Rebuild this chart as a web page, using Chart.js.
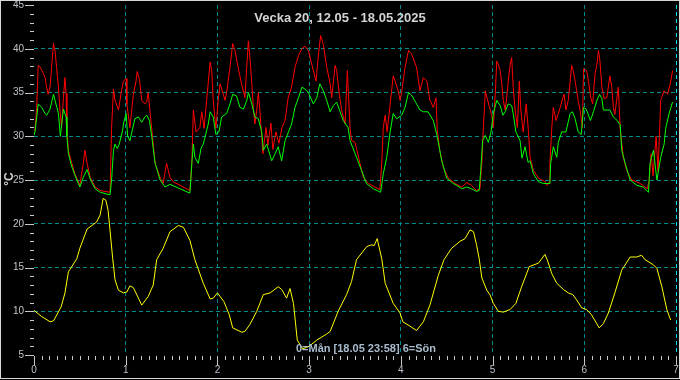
<!DOCTYPE html>
<html>
<head>
<meta charset="utf-8">
<script src="https://cdn.jsdelivr.net/npm/chart.js@4.4.1/dist/chart.umd.min.js"></script>
<style>
  html, body { margin:0; padding:0; background:#000; }
  #wrap { width:680px; height:380px; }
</style>
</head>
<body>
<div id="wrap"><canvas id="veckaChart" width="680" height="380"></canvas></div>
<script>
// ================================================================
// Veckodiagram — temperaturer, vecka 20
// ================================================================

const TITEL  = 'Vecka 20, 12.05 - 18.05.2025';
const FOTNOT = '0=Mån [18.05 23:58] 6=Sön';
const ENHET  = '°C';

const DAG_TICKS = [0, 1, 2, 3, 4, 5, 6, 7];          // dag 0 = måndag
const Y_TICKS   = [5, 10, 15, 20, 25, 30, 35, 40, 45];

// [timme sedan måndag 00:00, temperatur]
const rod = [
  [0,30.6],[0.3,30.9],[0.7,33.3],[1.1,38.1],[1.6,37.9],[2.3,37.3],[2.9,36.7],[3.3,35.6],[3.7,34.8],[4.2,35.6],
  [4.6,37.9],[5.1,40.6],[5.5,39.8],[5.9,37.9],[6.4,35.6],[6.8,33.0],[7.2,31.0],[7.7,34.4],[8.1,36.7],[8.4,34.9],
  [8.6,30.9],[9.0,28.4],[9.9,26.9],[10.7,25.7],[12.0,24.4],[12.9,26.9],[13.3,28.4],[13.9,26.9],[14.7,25.3],[16.0,24.2],
  [17.3,23.8],[19.9,23.6],[20.3,30.9],[20.8,35.4],[21.2,34.1],[22.1,33.0],[22.9,35.2],[23.4,36.3],[24.1,36.6],[24.3,33.7],
  [25.1,31.0],[26.0,34.8],[26.7,36.3],[27.0,37.4],[27.6,36.5],[28.2,34.1],[29.0,33.7],[29.5,33.9],[29.9,35.0],[30.4,32.6],
  [30.8,30.9],[31.7,26.9],[33.0,25.3],[33.8,24.6],[34.7,26.9],[35.6,25.3],[36.4,24.8],[38.2,24.4],[40.8,23.8],[41.3,26.9],
  [41.7,33.0],[42.4,30.5],[43.4,31.0],[43.9,32.8],[44.5,30.9],[46.1,38.5],[46.5,37.5],[46.9,34.1],[47.6,30.9],[48.2,34.1],
  [48.7,36.0],[50.0,34.1],[50.4,35.0],[51.3,37.9],[52.0,40.6],[52.6,39.8],[53.4,37.9],[54.3,36.0],[55.2,34.4],[55.7,38.2],
  [56.1,40.9],[56.5,39.0],[57.0,36.0],[57.4,33.3],[57.8,31.4],[58.3,33.0],[58.7,35.0],[59.1,33.0],[59.9,28.0],[60.7,31.0],
  [61.2,29.0],[62.0,31.5],[62.5,28.5],[63.3,30.5],[64.1,29.2],[64.9,31.0],[65.7,31.8],[66.5,34.4],[67.4,35.6],[68.3,37.9],
  [69.2,39.2],[70.1,40.0],[70.9,40.3],[71.8,39.8],[73.1,37.5],[73.8,36.3],[74.4,39.2],[75.0,41.5],[75.7,40.5],[76.6,37.9],
  [77.5,36.0],[77.9,34.4],[78.8,38.1],[79.2,37.5],[79.9,34.8],[80.5,33.0],[81.4,31.4],[82.0,37.5],[82.7,30.9],[83.1,29.5],
  [84.0,29.3],[84.4,28.6],[85.3,26.9],[86.2,25.3],[87.5,24.6],[89.2,24.2],[90.5,23.9],[91.0,26.9],[91.4,31.0],[91.9,32.4],
  [92.4,30.5],[93.2,33.7],[94.0,36.9],[94.5,36.3],[95.3,35.2],[95.8,34.1],[96.2,35.0],[97.1,37.9],[98.0,39.8],[98.8,39.4],
  [100.1,37.9],[101.0,35.2],[101.9,36.7],[102.8,36.3],[103.6,34.1],[104.5,33.3],[105.2,34.4],[105.5,30.9],[106.2,28.3],[107.1,26.5],
  [108.4,25.2],[110.2,24.6],[111.9,24.2],[113.2,24.7],[114.5,24.4],[115.8,23.8],[116.7,24.0],[117.2,26.9],[117.6,31.0],[118.1,35.2],
  [118.5,34.5],[119.2,33.3],[119.8,32.4],[120.2,31.0],[120.7,34.8],[121.1,38.6],[121.5,38.2],[122.0,37.5],[122.4,36.0],[122.8,34.1],
  [123.3,33.0],[123.7,34.4],[124.1,36.3],[124.6,38.2],[125.0,39.0],[125.4,35.6],[125.9,33.0],[126.5,31.0],[127.0,36.3],[127.4,33.0],
  [128.0,30.5],[128.8,33.7],[129.4,30.5],[129.8,27.6],[130.7,26.1],[132.0,25.2],[133.8,24.8],[134.3,24.4],[134.9,24.8],[135.0,26.9],
  [135.5,31.0],[135.9,33.3],[136.6,31.8],[137.7,33.3],[138.4,34.4],[138.7,34.8],[139.2,33.0],[139.8,34.1],[140.7,38.1],[141.1,37.5],
  [141.6,36.3],[142.0,35.2],[142.4,34.1],[142.9,33.0],[143.5,31.0],[143.8,37.7],[144.6,37.5],[145.1,36.3],[145.7,34.4],[146.2,33.7],
  [146.8,37.1],[147.3,38.2],[147.7,39.8],[148.1,38.6],[148.6,35.6],[149.2,34.3],[149.9,34.4],[150.7,36.9],[151.2,35.6],[151.6,33.3],
  [152.0,32.5],[152.9,35.6],[153.4,30.9],[154.2,27.6],[155.1,26.1],[156.4,25.0],[157.7,24.8],[158.6,24.6],[159.6,24.3],[160.5,24.0],
  [161.0,25.0],[161.5,28.0],[162.0,25.5],[162.8,30.0],[163.3,26.0],[164.0,34.1],[164.9,35.2],[165.8,34.8],[166.5,36.0],[167.1,37.5]
];

const gron = [
  [0,30.1],[0.3,30.6],[1.1,33.7],[2.0,33.3],[2.9,32.6],[3.3,32.4],[4.2,33.1],[5.1,34.8],[5.5,34.1],[6.4,32.6],
  [6.9,30.0],[7.7,33.1],[8.4,32.2],[8.6,30.0],[9.0,28.0],[9.9,26.5],[11.2,25.0],[12.0,24.2],[12.9,25.3],[13.9,26.2],
  [14.8,25.0],[16.0,24.0],[17.3,23.6],[19.9,23.3],[20.3,25.0],[20.8,28.4],[21.2,29.1],[21.8,28.6],[22.3,29.1],[23.2,30.7],
  [23.4,31.4],[24.1,32.6],[24.5,30.0],[25.1,29.5],[26.4,32.0],[27.3,32.2],[28.2,31.6],[29.0,32.2],[29.5,32.4],[30.2,31.8],
  [30.8,30.0],[31.7,26.9],[33.0,25.0],[34.3,24.2],[35.6,24.5],[38.2,24.0],[40.8,23.5],[41.3,26.9],[41.7,29.1],[42.1,27.6],
  [43.0,26.9],[43.7,28.6],[44.3,29.1],[45.2,30.7],[45.6,31.4],[46.1,32.8],[46.9,32.2],[47.6,30.2],[48.4,30.5],[49.1,32.2],
  [50.4,32.6],[51.3,33.7],[52.0,34.8],[53.0,34.6],[53.9,33.3],[54.8,33.1],[55.7,34.1],[56.1,35.0],[57.0,33.7],[57.8,32.2],
  [58.7,32.0],[59.6,30.5],[60.0,28.4],[60.9,29.1],[62.2,27.2],[63.1,28.0],[63.9,28.8],[64.8,27.2],[65.7,29.5],[66.6,30.5],
  [67.4,31.4],[68.3,33.3],[69.2,34.4],[70.1,35.6],[70.9,35.4],[71.8,35.0],[73.1,33.7],[74.0,34.4],[74.8,36.0],[75.7,35.2],
  [76.6,34.1],[77.5,32.8],[78.3,33.5],[79.2,33.9],[80.1,32.8],[80.9,31.8],[82.2,31.0],[82.7,29.5],[84.4,27.6],[85.7,26.1],
  [87.0,24.6],[88.8,24.0],[90.7,23.6],[91.4,25.7],[92.3,27.6],[93.2,30.5],[94.0,32.6],[94.9,32.0],[96.2,32.4],[97.1,33.3],
  [98.0,35.0],[98.8,34.7],[100.1,33.7],[101.0,33.0],[101.9,32.8],[103.1,32.8],[104.5,31.8],[105.5,30.0],[106.7,27.2],[108.0,25.2],
  [109.7,24.6],[110.6,24.4],[111.9,24.0],[113.2,24.2],[114.5,24.0],[115.8,23.7],[116.5,23.8],[116.9,26.1],[117.4,29.5],[118.1,30.1],
  [118.9,29.3],[119.6,30.5],[120.2,32.6],[121.1,34.1],[122.0,33.5],[122.7,32.4],[123.3,32.8],[124.1,33.7],[125.0,33.5],[125.4,32.6],
  [126.1,30.5],[127.2,29.5],[127.7,27.5],[128.5,28.8],[129.3,27.0],[129.8,27.2],[130.7,25.7],[132.0,24.8],[133.3,24.6],[135.0,24.6],
  [135.2,26.9],[135.9,28.8],[136.8,27.6],[137.2,29.3],[138.1,30.5],[139.2,30.5],[140.3,32.6],[140.9,32.8],[141.6,32.0],[142.4,30.5],
  [143.2,30.2],[143.8,33.3],[144.5,33.1],[145.1,32.4],[145.6,31.8],[146.4,32.8],[147.3,34.1],[148.0,34.8],[148.6,34.3],[149.0,33.0],
  [150.7,33.0],[151.6,32.2],[152.6,31.8],[153.4,31.3],[153.8,28.4],[154.7,26.9],[156.0,25.0],[157.7,24.4],[159.4,24.2],[160.8,23.6],
  [161.2,26.9],[162.1,28.4],[163.0,25.0],[164.0,27.6],[164.9,29.1],[165.3,30.9],[166.2,32.6],[167.1,33.9]
];

const ute = [
  [0,10.1],[2.0,9.4],[4.2,8.8],[5.1,8.9],[7.1,10.5],[8.1,12.1],[9.0,14.5],[11.2,16.0],[12.0,17.2],[13.9,19.4],
  [16.4,20.2],[17.3,21.0],[18.1,22.9],[18.8,22.7],[19.4,21.5],[20.6,16.0],[21.2,13.6],[22.1,12.4],[23.4,12.1],[24.3,12.2],
  [25.1,12.9],[26.0,12.7],[28.2,10.7],[29.9,11.7],[31.2,13.0],[32.1,15.9],[33.8,17.2],[35.6,19.1],[37.8,19.8],[39.1,19.6],
  [40.8,18.1],[42.1,15.9],[44.3,13.2],[46.1,11.4],[46.9,11.5],[48.0,12.1],[49.7,11.1],[51.1,9.6],[52.0,8.1],[54.4,7.6],
  [55.2,7.7],[56.5,8.5],[58.3,10.0],[60.0,11.9],[61.8,12.1],[63.9,12.8],[64.8,12.5],[66.1,11.5],[67.0,12.6],[67.9,10.9],
  [68.9,6.7],[70.3,5.7],[72.0,6.0],[74.0,6.7],[76.6,7.4],[77.5,7.7],[79.6,10.0],[81.8,11.9],[83.1,13.4],[84.4,15.9],
  [87.1,17.4],[88.4,17.6],[89.0,17.5],[89.8,18.3],[91.0,16.0],[91.9,13.2],[94.0,10.9],[95.8,9.8],[96.5,8.8],[98.4,8.3],
  [100.1,7.8],[101.9,8.8],[103.6,10.7],[105.8,14.1],[107.3,15.9],[109.3,17.2],[111.5,18.0],[112.8,18.3],[114.1,19.3],[115.0,19.1],
  [115.8,17.6],[116.5,16.0],[117.2,13.8],[118.5,12.4],[119.3,11.9],[120.2,10.9],[121.5,10.0],[122.8,9.9],[124.6,10.2],[126.1,10.9],
  [127.6,12.8],[129.6,15.1],[132.0,15.5],[133.7,16.5],[134.3,15.9],[135.5,14.3],[136.8,13.2],[138.5,12.5],[139.8,12.1],[141.0,11.9],
  [142.0,11.3],[143.3,10.4],[144.6,10.2],[145.9,9.6],[147.9,8.1],[149.0,8.6],[150.3,9.8],[152.0,12.1],[153.8,14.7],[156.0,16.2],
  [157.7,16.2],[159.0,16.4],[159.9,15.9],[162.1,15.3],[163.0,14.9],[164.3,12.8],[165.6,10.2],[166.6,9.0]
];

const TICK_FARG  = '#c8c8c8';
const GRID_FARG  = '#008b8b';
const NU_FARG    = '#00e5ee';
const ETIKETT_FONT = { family: 'Liberation Sans', size: 10 };

const tillPunkter = arr => arr.map(p => ({ x: p[0], y: p[1] }));

// bakgrund, ram, små tickar och texter
const ritaExtra = {
  id: 'ritaExtra',
  beforeDraw(chart) {
    const c = chart.ctx;
    c.save();
    c.fillStyle = '#000';
    c.fillRect(0, 0, chart.width, chart.height);
    c.restore();
  },
  afterDraw(chart) {
    const c  = chart.ctx;
    const sx = chart.scales.x;
    const sy = chart.scales.y;
    const ca = chart.chartArea;
    c.save();
    c.strokeStyle = TICK_FARG;
    c.lineWidth = 1;
    c.beginPath();
    // y: var grad, lång tick var 5:e
    for (let v = sy.min; v <= sy.max; v++) {
      const py = Math.round(sy.getPixelForValue(v)) + 0.5;
      const len = v % 5 === 0 ? 9 : 4;
      c.moveTo(ca.left - len, py);
      c.lineTo(ca.left, py);
    }
    // x: varannan timme, lång tick per dag
    for (let h = sx.min; h <= sx.max; h += 2) {
      const px = Math.round(sx.getPixelForValue(h)) + 0.5;
      const len = h % 24 === 0 ? 9 : 4;
      c.moveTo(px, ca.bottom + 1);
      c.lineTo(px, ca.bottom + 1 + len);
    }
    c.stroke();

    // titel
    c.fillStyle = '#d4d4d4';
    c.textAlign = 'center';
    c.textBaseline = 'middle';
    c.font = 'bold 13px "Liberation Sans", Arial, sans-serif';
    c.fillText(TITEL, chart.width / 2, 18);

    // fotnot
    c.fillStyle = '#a9bccd';
    c.font = 'bold 11px "Liberation Sans", Arial, sans-serif';
    c.fillText(FOTNOT, 366, 349);

    // enhet, roterad
    c.fillStyle = '#d0d0d0';
    c.font = 'bold 12px "Liberation Sans", Arial, sans-serif';
    c.translate(10, 179);
    c.rotate(-Math.PI / 2);
    c.fillText(ENHET, 0, 0);
    c.restore();

    // ram runt hela bilden
    c.save();
    c.strokeStyle = '#d8d8d8';
    c.lineWidth = 1;
    c.strokeRect(0.5, 0.5, chart.width - 1, chart.height - 2);
    c.restore();
  }
};

new Chart(document.getElementById('veckaChart'), {
  type: 'line',
  data: {
    datasets: [
      { label: 'Ute',   data: tillPunkter(ute),  borderColor: '#ffff00', borderWidth: 1, pointRadius: 0, tension: 0, fill: false },
      { label: 'Grön',  data: tillPunkter(gron), borderColor: '#00ff00', borderWidth: 1, pointRadius: 0, tension: 0, fill: false },
      { label: 'Röd',   data: tillPunkter(rod),  borderColor: '#ff0000', borderWidth: 1, pointRadius: 0, tension: 0, fill: false },
    ],
  },
  options: {
    responsive: false,
    animation: false,
    devicePixelRatio: 1,
    layout: { padding: { top: 5, right: 4, left: 0, bottom: 0 } },
    plugins: {
      legend: { display: false },
      title: { display: false },
      tooltip: { enabled: false },
    },
    scales: {
      x: {
        type: 'linear', min: 0, max: 168,
        afterBuildTicks: s => { s.ticks = DAG_TICKS.map(d => ({ value: d * 24 })); },
        afterFit: s => { s.height = 25; s.paddingLeft = 0; s.paddingRight = 0; },
        ticks: { color: '#b8c2cc', font: ETIKETT_FONT, padding: 9, maxRotation: 0, autoSkip: false,
                 callback: v => String(v / 24) },
        grid: {
          drawTicks: false, lineWidth: 1, borderDash: [4, 3],
          color: ctx => ctx.tick && ctx.tick.value === 168 ? NU_FARG
                       : (ctx.tick && ctx.tick.value === 0 ? 'rgba(0,0,0,0)' : GRID_FARG),
        },
        border: { display: false, dash: [4, 3] },
      },
      y: {
        min: 5, max: 45,
        afterBuildTicks: s => { s.ticks = Y_TICKS.map(v => ({ value: v })); },
        afterFit: s => { s.width = 34; s.paddingTop = 0; s.paddingBottom = 0; },
        ticks: { color: '#c0c4c8', font: ETIKETT_FONT, padding: 10 },
        grid: {
          drawTicks: false, lineWidth: 1, borderDash: [4, 3],
          color: ctx => ctx.tick && (ctx.tick.value === 5 || ctx.tick.value === 45) ? 'rgba(0,0,0,0)' : GRID_FARG,
        },
        border: { display: false, dash: [4, 3] },
      },
    },
  },
  plugins: [ritaExtra],
});
</script>
</body>
</html>
